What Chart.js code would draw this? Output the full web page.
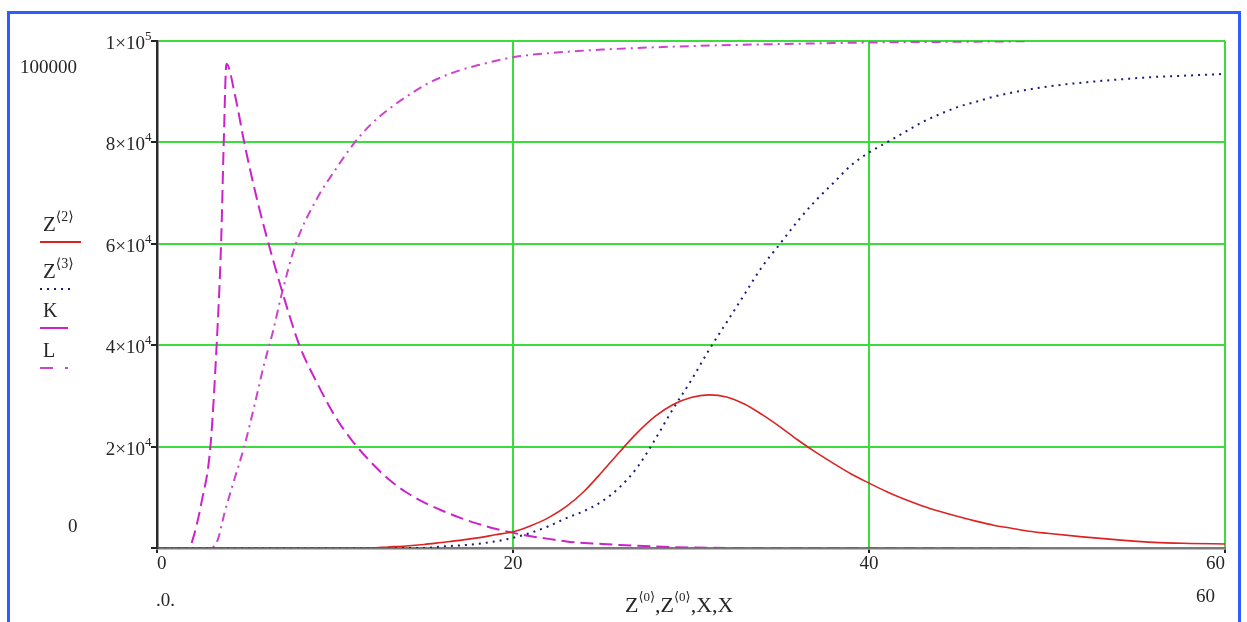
<!DOCTYPE html>
<html>
<head>
<meta charset="utf-8">
<script src="https://cdn.jsdelivr.net/npm/chart.js@4/dist/chart.umd.min.js"></script>
<style>
    html, body { margin: 0; padding: 0; background: #fff; overflow: hidden; }
    #frame {
        position: absolute; left: 7px; top: 11px; width: 1234px; height: 660px;
        border: 3px solid #2f5cff; box-sizing: border-box;
    }
    #plot { position: absolute; left: 0; top: 0; }
</style>
</head>
<body>
<div id="frame"></div>
<canvas id="plot" width="1247" height="622"></canvas>
<script>
// Z<2> (red, solid)
const z2X = [0, 12, 13, 14, 15, 16, 17, 18, 19, 20, 21, 22, 23, 24, 25, 26, 27, 28, 29, 30, 31, 32, 33, 34, 35, 36, 37, 38, 39, 40, 41, 42, 43, 44, 45, 46, 47, 48, 49, 50, 52, 54, 56, 58, 60];
const z2Values = [0, 0, 200, 400, 700, 1100, 1500, 2000, 2600, 3200, 4400, 6000, 8200, 11200, 15000, 19000, 22800, 26000, 28300, 29700, 30200, 29800, 28400, 26300, 23900, 21300, 18900, 16700, 14600, 12800, 11100, 9600, 8300, 7200, 6200, 5300, 4500, 3900, 3300, 2900, 2200, 1600, 1100, 900, 800];

// Z<3> (blue, dotted)
const z3X = [0, 15, 16, 17, 18, 19, 20, 21, 22, 23, 24, 25, 26, 27, 28, 29, 30, 31, 32, 33, 34, 35, 36, 37, 38, 39, 40, 41, 42, 43, 44, 45, 46, 47, 48, 50, 52, 54, 56, 58, 60];
const z3Values = [0, 0, 300, 500, 800, 1300, 2000, 3000, 4300, 5900, 7300, 9200, 12000, 16000, 21500, 27500, 33000, 39000, 44500, 50000, 55500, 60000, 64500, 68500, 72000, 75500, 78000, 80000, 82000, 84000, 85600, 87000, 88000, 89000, 89800, 91000, 91800, 92400, 92900, 93200, 93500];

// K (magenta, dashed)
const kX = [0, 1.8, 2.0, 2.5, 3.0, 3.35, 3.6, 3.75, 3.9, 4.4, 4.9, 5.5, 6, 7, 8, 9, 10, 11, 12, 13, 14, 15, 16, 17, 18, 19, 20, 21, 22, 23, 24, 25, 26, 28, 30, 35, 49];
const kValues = [0, 0, 1600, 9000, 20000, 40000, 60000, 80000, 95500, 89000, 80000, 70500, 63500, 51000, 40000, 32500, 26000, 21000, 17000, 13600, 11000, 9000, 7400, 6000, 4800, 3800, 3000, 2300, 1800, 1300, 1000, 800, 600, 300, 100, 0, 0];

// L (magenta, dash-dot)
const lX = [0, 3.0, 3.4, 3.8, 4.3, 4.9, 5.5, 6, 6.5, 7, 7.8, 9, 10, 11, 12, 13, 14, 15, 16, 17, 18, 20, 22, 25, 30, 35, 40, 45, 49];
const lValues = [0, 0, 1500, 7000, 13000, 20000, 28500, 36000, 42500, 50000, 60000, 69000, 74500, 79500, 83500, 86500, 89000, 91200, 92900, 94200, 95200, 96800, 97600, 98300, 99000, 99400, 99700, 99850, 99950];

// y tick labels written as mantissa x 10^exponent
const yTickValues = [20000, 40000, 60000, 80000, 100000];
const yTickMantissa = ['2', '4', '6', '8', '1'];
const yTickExponent = ['4', '4', '4', '4', '5'];

const SERIF = '"Liberation Serif", "DejaVu Serif", serif';
const GREEN = '#3ddc3d';
const INK = '#262626';

const toPoints = (xs, ys) => xs.map((x, i) => ({ x: x, y: ys[i] }));

// draws text pieces one after another, some raised as superscripts
const drawRich = (ctx, parts, x, y) => {
    let cx = x;
    parts.forEach(p => {
        ctx.font = `${p.size}px ${SERIF}`;
        ctx.fillText(p.text, cx, y + (p.dy || 0));
        cx += ctx.measureText(p.text).width;
    });
};

const labelsPlugin = {
    id: 'mathcadLabels',
    afterDraw(chart) {
        const { ctx, scales: { y } } = chart;
        ctx.save();
        ctx.fillStyle = INK;
        ctx.textBaseline = 'alphabetic';

        // y tick labels like 8x10^4
        yTickValues.forEach((v, i) => {
            const py = y.getPixelForValue(v);
            ctx.font = `19px ${SERIF}`;
            ctx.textAlign = 'right';
            ctx.fillText(yTickMantissa[i] + '\u00d710', 145, py + 8);
            ctx.font = `13px ${SERIF}`;
            ctx.textAlign = 'left';
            ctx.fillText(yTickExponent[i], 145, py - 1);
        });

        ctx.textAlign = 'left';
        // limit labels
        ctx.font = `19px ${SERIF}`;
        ctx.fillText('100000', 20, 73);
        ctx.fillText('0', 68, 532);
        ctx.fillText('.0.', 156, 606);
        ctx.fillText('60', 1196, 602);

        // x axis title
        drawRich(ctx, [
            { text: 'Z', size: 22 },
            { text: '\u27e80\u27e9', size: 13, dy: -11 },
            { text: ',Z', size: 22 },
            { text: '\u27e80\u27e9', size: 13, dy: -11 },
            { text: ',X,X', size: 22 }
        ], 625, 612);

        // legend
        const legend = [
            { parts: [{ text: 'Z', size: 21 }, { text: '\u27e82\u27e9', size: 14, dy: -10 }], base: 231, color: '#dd2222', dash: [], width: 2, x2: 81 },
            { parts: [{ text: 'Z', size: 21 }, { text: '\u27e83\u27e9', size: 14, dy: -10 }], base: 278, color: '#1c1c7a', dash: [2, 5], width: 2, x2: 75 },
            { parts: [{ text: 'K', size: 20 }], base: 317, color: '#cc22cc', dash: [], width: 2, x2: 68 },
            { parts: [{ text: 'L', size: 20 }], base: 357, color: '#cc44cc', dash: [13, 12, 3, 12], width: 2, x2: 69 }
        ];
        legend.forEach(item => {
            ctx.fillStyle = INK;
            drawRich(ctx, item.parts, 43, item.base);
            ctx.beginPath();
            ctx.setLineDash(item.dash);
            ctx.strokeStyle = item.color;
            ctx.lineWidth = item.width;
            ctx.moveTo(40, item.base + 11);
            ctx.lineTo(item.x2, item.base + 11);
            ctx.stroke();
        });
        ctx.restore();
    }
};

const hideZero = ctx => (ctx.tick && ctx.tick.value === 0) ? 'rgba(0,0,0,0)' : GREEN;

new Chart(document.getElementById('plot'), {
    type: 'line',
    data: {
        datasets: [
            {
                label: 'Z<2>', data: toPoints(z2X, z2Values),
                borderColor: '#dd2222', borderWidth: 1.6
            },
            {
                label: 'Z<3>', data: toPoints(z3X, z3Values),
                borderColor: '#1c1c7a', borderWidth: 2, borderDash: [2, 5]
            },
            {
                label: 'K', data: toPoints(kX, kValues),
                borderColor: '#cc22cc', borderWidth: 2, borderDash: [13, 6]
            },
            {
                label: 'L', data: toPoints(lX, lValues),
                borderColor: '#cc44cc', borderWidth: 2, borderDash: [9, 5, 2, 5]
            }
        ]
    },
    options: {
        responsive: false,
        devicePixelRatio: 1,
        animation: false,
        events: [],
        layout: { padding: { left: 0, right: 22, top: 41, bottom: 0 } },
        elements: {
            point: { radius: 0 },
            line: { cubicInterpolationMode: 'monotone', fill: false }
        },
        plugins: { legend: { display: false }, tooltip: { enabled: false } },
        scales: {
            x: {
                type: 'linear', min: 0, max: 60,
                afterFit: s => { s.height = 74; },
                ticks: {
                    stepSize: 20, align: 'inner', padding: 0,
                    color: INK, font: { family: SERIF, size: 19 }
                },
                grid: { color: hideZero, lineWidth: 2, tickColor: '#222', tickLength: 5 },
                border: { color: '#7a7a7a', width: 2.5 }
            },
            y: {
                min: 0, max: 100000,
                afterFit: s => { s.width = 157; },
                ticks: { stepSize: 20000, display: false },
                grid: { color: hideZero, lineWidth: 2, tickColor: '#222', tickLength: 6 },
                border: { color: '#2a2a2a', width: 2.5 }
            }
        }
    },
    plugins: [labelsPlugin]
});
</script>
</body>
</html>
